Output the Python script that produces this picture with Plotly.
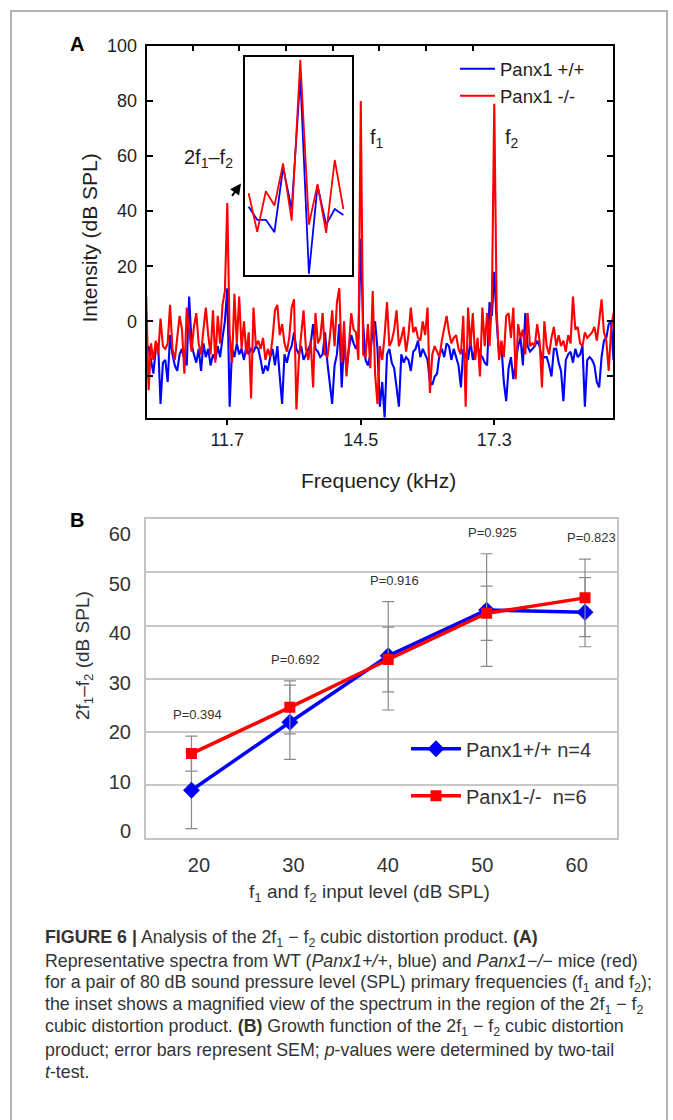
import plotly.graph_objects as go

W, H = 673, 1120


def px(x):
    return x / W


def py(y):
    # reference-pixel row -> paper fraction (compensates the page offset seen in the photo)
    return 1 - (y / 0.986 - 10) / H


# ---------------- Panel A data (spectrum, dB SPL) ----------------
FREQ_START_KHZ = 10.0
FREQ_STEP_KHZ = 0.05

SPEC_WT = [
    -12, -9, -14, -19, -10, -8, -30, -15, -14, -22,
    -5, -12, -16, -18, -12, -10, -14, -16, 9, -8,
    -12, -15, -10, -18, -8, -13, -10, -16, -12, -14,
    -9, -13, -6, 0, 12, -31, -10, -13, -8, -12,
    -10, -14, -9, -12, -10, -11, -9, -10, -14, -19,
    -16, -18, -13, -10, -16, -9, -20, -30, -12, -15,
    -11, -9, -4, -10, -12, -9, -14, -12, -10, -8,
    -1, -10, -11, -13, -12, -4, -15, -22, -30, -16,
    -12, -1, -24, -7, -18, -10, -5, -8, -10, -6,
    30, -1, -14, -16, -12, -3, 0, -10, -31, -22,
    -35, -12, -10, -15, -17, -24, -31, -12, -15, -13,
    -14, -18, -11, -10, -7, -13, -10, -12, -14, -22,
    -23, -20, -19, -12, -10, -13, -8, -9, -14, -10,
    -13, -16, -24, -10, -13, -14, -7, -14, -10, -9,
    -12, -13, -15, -16, 7, 2, 18, 0, -12, -9,
    -22, -29, -17, -13, -21, -14, -9, -6, -16, 3,
    -9, -11, -10, -9, -7, -9, -14, -13, -13, -16,
    -20, -10, -10, -15, -18, -29, -14, -12, -11, -15,
    -10, -13, -12, -9, -31, -14, -13, -14, -16, -22,
    -24, -13, -7, -6, -1, 0, -14,
]

SPEC_KO = [
    9, -25, -8, -14, -7, -12, 1, -9, -10, -8,
    6, -10, -14, -6, 2, -3, -19, 5, -4, -11,
    -2, 3, -8, -12, -3, 5, -5, -12, 4, -15,
    2, -8, 6, 11, 43, -5, -15, 10, -8, 9,
    -10, 0, -12, -4, -28, 5, -9, -7, -10, -6,
    -14, -10, -13, -6, 4, 6, -5, -1, -8, -11,
    -6, 5, 8, -32, -14, -4, 4, -10, -14, -7,
    -24, 3, -8, -6, 3, -12, -13, -6, 4, -9,
    7, 12, -15, 0, -20, -9, 3, -3, -4, -14,
    80, -12, -13, -1, -17, 11, -19, -30, -9, -14,
    -5, 7, -9, -7, -3, 4, -9, -6, -2, -11,
    -5, 5, -4, -2, -6, -7, 0, -5, 5, -26,
    -12, -9, -11, -13, -7, -3, 2, -4, -8, -6,
    -5, -10, -12, 2, -31, 5, -9, 3, -14, -6,
    -20, 5, -9, 3, -9, 8, 79, 4, -14, -7,
    -13, 2, 3, -6, 5, -21, -1, -6, -3, -12,
    3, -9, -8, -9, -1, -7, -24, 0, -9, -12,
    -6, -2, -9, -5, -9, -7, -11, -5, -8, 9,
    -3, -2, -8, -9, -4, -6, -5, -4, -2, -7,
    0, 8, -4, -7, -18, -3, 3,
]

# inset: magnified view around 2f1-f2 (bin offsets, relative dB)
INSET_BIN = [0, 1, 2, 3, 4, 5, 6, 7, 8, 9, 10, 11]
INSET_WT = [7.1, 3.8, 3.8, 0.7, 17.0, 6.5, 39.7, -9.8, 12.4, 2.6, 6.5, 5.0]
INSET_KO = [10.5, 0.8, 11.0, 7.4, 18.0, 3.6, 44.2, 2.6, 12.8, 0.5, 18.9, 6.5]

A_XTICKS = [11.7, 14.5, 17.3]
A_XTICKTEXT = ["11.7", "14.5", "17.3"]
A_TOP_TICKS = [10.975, 11.954, 12.933, 13.912, 14.891, 15.870, 16.849]
A_YTICKS = [-20, 0, 20, 40, 60, 80, 100]
A_YTICKTEXT = ["", "0", "20", "40", "60", "80", "100"]

# ---------------- Panel B data (growth function) ----------------
LEVELS = [20, 30, 40, 50, 60]
WT_MEAN = [9.0, 21.8, 34.3, 42.9, 42.5]
WT_SEM = [7.2, 7.0, 10.2, 10.6, 6.5]
KO_MEAN = [15.9, 24.6, 33.6, 42.3, 45.2]
KO_SEM = [3.3, 5.0, 6.1, 5.1, 7.3]
P_LABELS = ["P=0.394", "P=0.692", "P=0.916", "P=0.925", "P=0.823"]
B_YTICKS = [0, 10, 20, 30, 40, 50, 60]

BLUE = "#0000ff"
RED = "#ff0000"
FONT = "Liberation Sans, Arial, sans-serif"
TXT_A = "#1e1e1e"
TXT_B = "#333333"

fig = go.Figure()

# Panel A spectra
fig.add_trace(go.Scatter(
    y=SPEC_WT, x0=FREQ_START_KHZ, dx=FREQ_STEP_KHZ, mode="lines",
    line=dict(color=BLUE, width=2.1), name="Panx1 +/+",
    xaxis="x", yaxis="y", legend="legend"))
fig.add_trace(go.Scatter(
    y=SPEC_KO, x0=FREQ_START_KHZ, dx=FREQ_STEP_KHZ, mode="lines",
    line=dict(color=RED, width=2.1), name="Panx1 -/-",
    xaxis="x", yaxis="y", legend="legend"))

# empty carrier traces so that the overlay axes are drawn
for xa, ya in (("x4", "y"), ("x5", "y2"), ("x2", "y5")):
    fig.add_trace(go.Scatter(x=[None], y=[None], mode="lines", xaxis=xa,
                             yaxis=ya, showlegend=False, hoverinfo="skip"))

# Inset
fig.add_trace(go.Scatter(
    x=INSET_BIN, y=INSET_WT, mode="lines", line=dict(color=BLUE, width=1.8),
    showlegend=False, xaxis="x3", yaxis="y3"))
fig.add_trace(go.Scatter(
    x=INSET_BIN, y=INSET_KO, mode="lines", line=dict(color=RED, width=1.8),
    showlegend=False, xaxis="x3", yaxis="y3"))

# Panel B
err_style = dict(type="data", color="#8a8a8a", thickness=1.2, width=6)
fig.add_trace(go.Scatter(
    x=LEVELS, y=WT_MEAN, mode="lines+markers", name="Panx1+/+ n=4",
    line=dict(color=BLUE, width=3.5),
    marker=dict(symbol="diamond", size=13, color=BLUE),
    error_y=dict(array=WT_SEM, **err_style),
    xaxis="x2", yaxis="y2", legend="legend2", legendgroup="wt"))
fig.add_trace(go.Scatter(
    x=LEVELS, y=KO_MEAN, mode="lines+markers", name="Panx1-/-  n=6",
    line=dict(color=RED, width=3.5),
    marker=dict(symbol="square", size=11, color=RED),
    error_y=dict(array=KO_SEM, **err_style),
    xaxis="x2", yaxis="y2", legend="legend2", legendgroup="ko"))

annotations = []


def add_text(text, x, y, size, color, xanchor="center", yanchor="middle",
             angle=0, bold=False):
    annotations.append(dict(
        text=("<b>%s</b>" % text) if bold else text,
        x=px(x), y=py(y), xref="paper", yref="paper",
        xanchor=xanchor, yanchor=yanchor, showarrow=False, textangle=angle,
        font=dict(family=FONT, size=size, color=color)))


# panel letters
add_text("A", 77, 44, 20, "#000", bold=True)
add_text("B", 77, 519, 20, "#000", bold=True)

# Panel A labels
add_text("Intensity (dB SPL)", 89, 238, 21, TXT_A, angle=-90)
add_text("Frequency (kHz)", 378, 480, 21, TXT_A)
add_text("2f<sub>1</sub>\u2013f<sub>2</sub>", 208, 158, 20, TXT_A)
add_text("f<sub>1</sub>", 377, 138, 20, TXT_A)
add_text("f<sub>2</sub>", 512, 138, 20, TXT_A)
annotations.append(dict(
    x=px(241), y=py(183), xref="paper", yref="paper", text="",
    showarrow=True, ax=-10, ay=14, arrowhead=2, arrowsize=1.1,
    arrowwidth=2, arrowcolor="#000"))

# Panel B labels
add_text("2f<sub>1</sub>\u2013f<sub>2</sub> (dB SPL)", 84, 655, 19, TXT_B, angle=-90)
add_text("f<sub>1</sub> and f<sub>2</sub> input level (dB SPL)", 369, 892, 19, TXT_B)
for lev, lab, wm, ws, km, ks in zip(LEVELS, P_LABELS, WT_MEAN, WT_SEM, KO_MEAN, KO_SEM):
    annotations.append(dict(
        text=lab, x=lev, y=max(wm + ws, km + ks), xref="x2", yref="y2",
        xanchor="center", yanchor="bottom", xshift=6, yshift=12,
        showarrow=False, font=dict(family=FONT, size=13, color=TXT_B)))

# Caption
CAPTION = [
    "<b>FIGURE 6 |</b> Analysis of the 2f<sub>1</sub> \u2212 f<sub>2</sub> cubic distortion product. <b>(A)</b>",
    "Representative spectra from WT (<i>Panx1+/+</i>, blue) and <i>Panx1\u2212/\u2212</i> mice (red)",
    "for a pair of 80 dB sound pressure level (SPL) primary frequencies (f<sub>1</sub> and f<sub>2</sub>);",
    "the inset shows a magnified view of the spectrum in the region of the 2f<sub>1</sub> \u2212 f<sub>2</sub>",
    "cubic distortion product. <b>(B)</b> Growth function of the 2f<sub>1</sub> \u2212 f<sub>2</sub> cubic distortion",
    "product; error bars represent SEM; <i>p</i>-values were determined by two-tail",
    "<i>t</i>-test.",
]
for k, line in enumerate(CAPTION):
    add_text(line, 43, 937 + 22.2 * k, 17.8, "#333333", xanchor="left")

axis_common = dict(showgrid=False, zeroline=False)

fig.update_layout(
    width=W, height=H, autosize=False,
    margin=dict(l=0, r=0, t=0, b=0, pad=0),
    paper_bgcolor="white", plot_bgcolor="white",
    font=dict(family=FONT, color=TXT_A),
    xaxis=dict(
        domain=[px(146.7), px(613)], range=[10.01, 19.79], anchor="y",
        tickvals=A_XTICKS, ticktext=A_XTICKTEXT, ticks="outside", ticklen=5,
        tickwidth=2, tickcolor="#000", showline=True, linecolor="#000",
        linewidth=2, mirror=True, tickfont=dict(size=18, color=TXT_A),
        ticklabelstandoff=0, **axis_common),
    xaxis4=dict(
        overlaying="x", side="top", anchor="y", range=[10.01, 19.79],
        tickvals=A_TOP_TICKS, ticks="inside", ticklen=5, tickwidth=2,
        tickcolor="#000", showticklabels=False, showline=False, **axis_common),
    yaxis=dict(
        domain=[py(417), py(45.7)], range=[-35, 100], anchor="x",
        tickvals=A_YTICKS, ticktext=A_YTICKTEXT, ticks="inside", ticklen=6,
        tickwidth=2, tickcolor="#000", showline=True, linecolor="#000",
        linewidth=2, mirror="ticks", tickfont=dict(size=18, color=TXT_A),
        ticklabelstandoff=4, **axis_common),
    xaxis3=dict(
        domain=[px(245), px(352)], range=[-0.42, 12.0], anchor="y3",
        showticklabels=False, ticks="", showline=True, linecolor="#000",
        linewidth=2, mirror=True, **axis_common),
    yaxis3=dict(
        domain=[py(274), py(56.3)], range=[-10, 45], anchor="x3",
        showticklabels=False, ticks="", showline=True, linecolor="#000",
        linewidth=2, mirror=True, **axis_common),
    xaxis2=dict(
        domain=[px(146), px(617)], range=[15.38, 63.25], anchor="y2",
        showticklabels=False, ticks="", showline=True, linecolor="#c4c4c4",
        linewidth=1.5, mirror=True, **axis_common),
    yaxis2=dict(
        domain=[py(836.7), py(518.3)], range=[0, 60], anchor="x2",
        tickvals=B_YTICKS, showticklabels=False, ticks="", showgrid=True,
        gridcolor="#c8c8c8", gridwidth=1.5, showline=True,
        linecolor="#c4c4c4", linewidth=1.5, mirror=True, zeroline=False),
    xaxis5=dict(
        overlaying="x2", anchor="y2", side="bottom", range=[14.39, 64.27],
        tickvals=LEVELS, ticks="", showline=False,
        tickfont=dict(size=20, color=TXT_B), ticklabelstandoff=13,
        **axis_common),
    yaxis5=dict(
        overlaying="y2", anchor="x2", side="left", range=[-1.35, 62.97],
        tickvals=B_YTICKS, ticks="", showline=False,
        tickfont=dict(size=20, color=TXT_B), ticklabelstandoff=14,
        **axis_common),
    legend=dict(
        x=px(455), y=py(50), xanchor="left", yanchor="top",
        bgcolor="rgba(255,255,255,0)", font=dict(size=18.5, color=TXT_A),
        itemwidth=35, tracegroupgap=0),
    legend2=dict(
        x=px(406), y=py(728), xanchor="left", yanchor="top",
        bgcolor="rgba(255,255,255,0)", font=dict(size=20, color=TXT_B),
        traceorder="grouped", tracegroupgap=18, itemwidth=50),
    annotations=annotations,
    shapes=[dict(type="rect", xref="paper", yref="paper",
                 x0=px(11), x1=px(667), y0=-0.02, y1=0.999,
                 line=dict(color="#9a9a9a", width=1.5), fillcolor="rgba(0,0,0,0)",
                 layer="below")],
)

POST = (
    "document.documentElement.style.margin='0';"
    "document.documentElement.style.overflow='hidden';"
    "document.body.style.margin='0';"
    "document.body.style.overflow='hidden';"
    "var gd=document.getElementById('{plot_id}');"
    "gd.style.position='absolute';gd.style.left='0px';gd.style.top='0px';"
)

fig.write_html("out.html", config={"displayModeBar": False}, post_script=POST)
